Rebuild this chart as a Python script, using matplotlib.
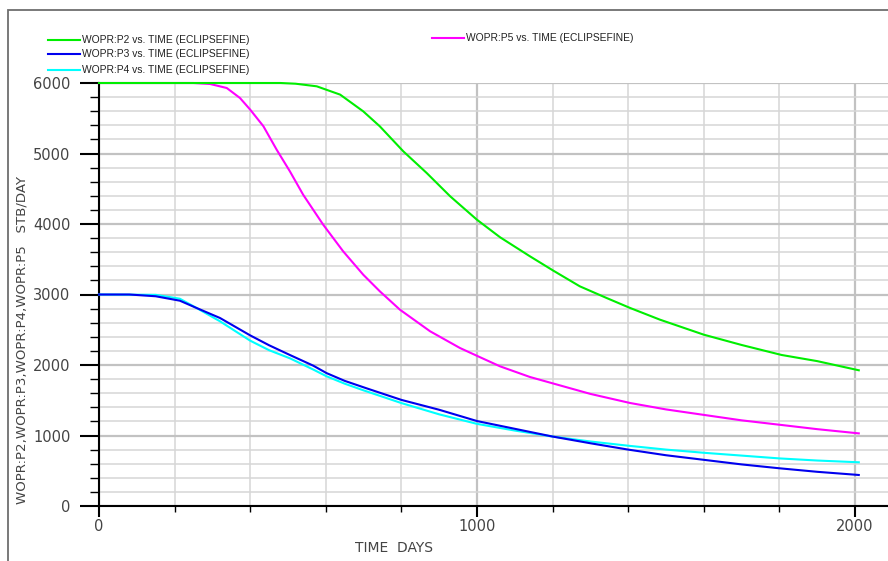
import numpy as np
import matplotlib
matplotlib.use("Agg")
import matplotlib.pyplot as plt
from matplotlib.lines import Line2D
from matplotlib.patches import Rectangle
from matplotlib.ticker import MultipleLocator, FixedLocator

# Well oil production rates (STB/DAY) against simulation time (days)
days_p2 = [0, 480, 520, 576, 638, 699, 743, 805, 867, 929, 1000, 1061, 1140, 1202,
           1272, 1343, 1405, 1484, 1600, 1700, 1806, 1900, 2010]
wopr_p2 = [6000, 6000, 5990, 5953, 5835, 5598, 5385, 5031, 4723, 4393, 4060, 3812,
           3542, 3338, 3116, 2950, 2809, 2643, 2430, 2284, 2142, 2055, 1925]

days_p5 = [0, 250, 294, 338, 373, 400, 435, 470, 505, 540, 593, 646, 699, 743, 796,
           876, 955, 1000, 1061, 1140, 1200, 1300, 1405, 1500, 1603, 1700, 1806,
           1900, 2010]
wopr_p5 = [6000, 6000, 5986, 5929, 5787, 5622, 5386, 5054, 4747, 4416, 3991, 3612,
           3281, 3045, 2785, 2478, 2241, 2130, 1981, 1830, 1740, 1590, 1461, 1370,
           1290, 1215, 1149, 1090, 1030]

days_p3 = [0, 80, 150, 214, 258, 320, 400, 450, 505, 567, 602, 650, 708, 800, 900,
           1000, 1100, 1200, 1300, 1400, 1500, 1600, 1700, 1800, 1900, 2010]
wopr_p3 = [3000, 3000, 2975, 2912, 2809, 2667, 2420, 2280, 2142, 1990, 1885, 1775,
           1669, 1505, 1365, 1205, 1095, 985, 890, 800, 720, 655, 590, 535, 485, 440]

days_p4 = [0, 150, 214, 258, 320, 400, 450, 505, 567, 602, 650, 700, 800, 900, 1000,
           1100, 1200, 1300, 1400, 1500, 1600, 1700, 1800, 1900, 2010]
wopr_p4 = [3000, 2995, 2940, 2809, 2620, 2345, 2210, 2095, 1935, 1840, 1735, 1640,
           1460, 1300, 1165, 1070, 985, 915, 855, 800, 755, 715, 675, 645, 620]

series_labels = ["WOPR:P2 vs. TIME (ECLIPSEFINE)",
                 "WOPR:P3 vs. TIME (ECLIPSEFINE)",
                 "WOPR:P4 vs. TIME (ECLIPSEFINE)",
                 "WOPR:P5 vs. TIME (ECLIPSEFINE)"]
series_colors = ["#00ee00", "#0000ee", "#00ffff", "#ff00ff"]

x_ticks = [0, 1000, 2000]
y_ticks = [0, 1000, 2000, 3000, 4000, 5000, 6000]

W, H = 888, 561
fig = plt.figure(figsize=(W / 100, H / 100), dpi=100)

# outer frame (top and left edges)
fig.add_artist(Rectangle((8 / W, -0.1), 1.2, (H - 9.5) / H + 0.1,
                         transform=fig.transFigure, fill=False,
                         edgecolor="#6e6e6e", lw=1.3))

ax = fig.add_axes([99 / W, 55 / H, 1 - 99 / W, (506 - 83) / H])
ax.set_xlim(0, (W - 99) / 0.378)
ax.set_ylim(0, 6000)

datasets = [(days_p2, wopr_p2), (days_p3, wopr_p3), (days_p4, wopr_p4), (days_p5, wopr_p5)]
order = [3, 0, 2, 1]
for i in order:
    d, v = datasets[i]
    ax.plot(d, v, color=series_colors[i], lw=1.5, clip_on=False, zorder=3,
            solid_joinstyle="round")

for s in ["top", "right"]:
    ax.spines[s].set_visible(False)
for s in ["left", "bottom"]:
    ax.spines[s].set_linewidth(1.5)
    ax.spines[s].set_color("black")

ax.xaxis.set_major_locator(FixedLocator(x_ticks))
ax.xaxis.set_minor_locator(MultipleLocator(200))
ax.yaxis.set_major_locator(FixedLocator(y_ticks))
ax.yaxis.set_minor_locator(MultipleLocator(200))

ax.grid(which="major", color="#c2c2c2", lw=1.6, zorder=0)
ax.grid(which="minor", color="#d6d6d6", lw=1.1, zorder=0)
ax.set_axisbelow(True)

ax.tick_params(axis="x", which="major", direction="out", length=8, width=1.5,
               pad=1.5, labelsize=10.5, labelcolor="#444444")
ax.tick_params(axis="x", which="minor", direction="out", length=4, width=1.0)
ax.tick_params(axis="y", which="major", direction="out", length=13.5, width=1.5,
               pad=7, labelsize=10.5, labelcolor="#444444")
ax.tick_params(axis="y", which="minor", direction="out", length=6.5, width=1.0)

ax.set_xticklabels([str(t) for t in x_ticks], family="DejaVu Sans")
ax.set_yticklabels([str(t) for t in y_ticks], family="DejaVu Sans")

fig.text(394 / W, 1 - 548 / H, "TIME  DAYS", ha="center", va="center",
         fontsize=10, color="#444444", family="DejaVu Sans")
fig.text(22 / W, 1 - 340 / H, "WOPR:P2,WOPR:P3,WOPR:P4,WOPR:P5   STB/DAY",
         ha="center", va="center", rotation=90, fontsize=9.6, color="#444444",
         family="DejaVu Sans")

# legend entries drawn in figure pixel coordinates
legend_pos = [(48, 40), (48, 54), (48, 70), (432, 38)]
for (lx, ly), lab, col in zip(legend_pos, series_labels, series_colors):
    fig.add_artist(Line2D([lx / W, (lx + 32) / W], [1 - ly / H, 1 - ly / H],
                          transform=fig.transFigure, color=col, lw=1.5))
    fig.text((lx + 34) / W, 1 - ly / H, lab, ha="left", va="center",
             fontsize=7.4, color="#222222", family="Liberation Sans")

fig.savefig("out.png", dpi=100)
